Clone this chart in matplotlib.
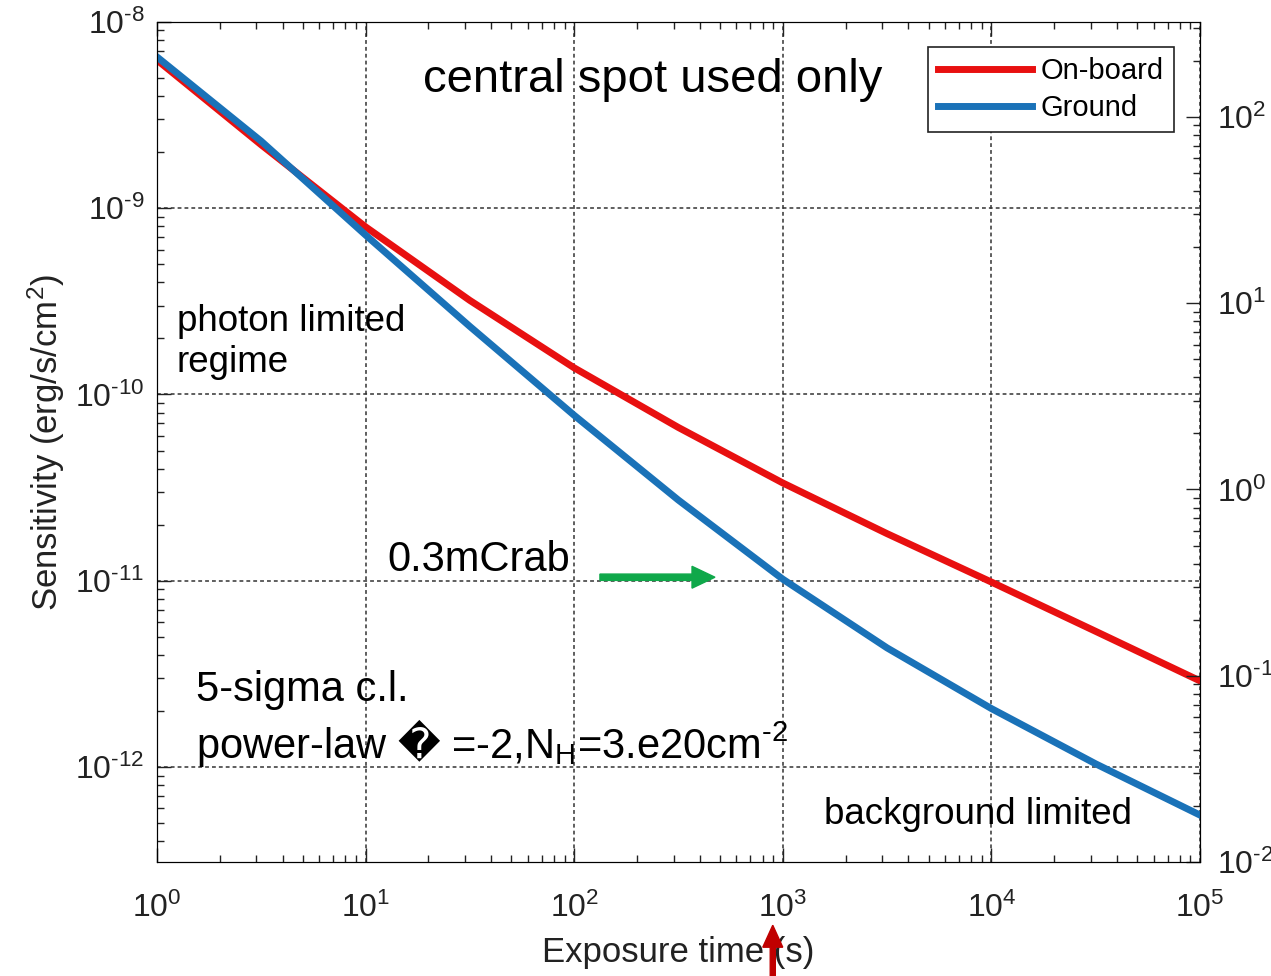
import numpy as np
import matplotlib
matplotlib.use("Agg")
from matplotlib import pyplot as plt
from matplotlib.patches import FancyArrow
from matplotlib.ticker import FuncFormatter

plt.rcParams['font.family'] = ['Liberation Sans', 'DejaVu Sans']
plt.rcParams['mathtext.fontset'] = 'custom'
plt.rcParams['mathtext.rm'] = 'Liberation Sans'
plt.rcParams['mathtext.it'] = 'Liberation Sans:italic'
plt.rcParams['mathtext.bf'] = 'DejaVu Sans'   # only used for the replacement glyph
plt.rcParams['axes.unicode_minus'] = False

# exposure time (s) and sensitivity (erg/s/cm^2)
exposure = [1, 3.16, 10, 31.6, 100, 316, 1000, 3162, 10000, 31623, 100000]
onboard = [6.25e-9, 2.19e-9, 7.94e-10, 3.20e-10, 1.39e-10, 6.65e-11,
           3.35e-11, 1.79e-11, 9.84e-12, 5.35e-12, 2.90e-12]
ground = [6.49e-9, 2.29e-9, 7.18e-10, 2.32e-10, 7.73e-11, 2.71e-11,
          1.02e-11, 4.36e-12, 2.06e-12, 1.04e-12, 5.52e-13]

mcrab = 3.09e-11  # erg/s/cm^2 per mCrab (right axis)
ylim = (3.09e-13, 1e-8)

HY = '\u2010'  # short hyphen, as in the original tick labels


def pow10(v, pos):
    e = int(round(np.log10(v)))
    s = str(e).replace('-', HY)
    return '$\\mathdefault{10^{%s}}$' % s


fig = plt.figure(figsize=(12.71, 9.76), dpi=100)
ax = fig.add_axes([0.1235, 0.1168, 0.8206, 0.8607])

ax.plot(exposure, onboard, color='#e81010', lw=5, label='On-board', zorder=3)
ax.plot(exposure, ground, color='#1a72b8', lw=5, label='Ground', zorder=4)
ax.set_xscale('log')
ax.set_yscale('log')
ax.set_xlim(1, 1e5)
ax.set_ylim(*ylim)
ax.xaxis.set_major_formatter(FuncFormatter(pow10))
ax.yaxis.set_major_formatter(FuncFormatter(pow10))
ax.grid(True, which='major', ls=(0, (2.5, 2)), color='#333333', lw=1.1)
ax.tick_params(which='both', direction='in', top=True, right=False,
               labelsize=23, colors='#222222')
ax.tick_params(which='major', length=10, width=1)
ax.tick_params(which='minor', length=5, width=1)
ax.tick_params(axis='x', pad=22)
ax.tick_params(axis='y', pad=9)
ax.set_xlabel('Exposure time (s)', fontsize=25, color='#222222', labelpad=9)
ax.set_ylabel('Sensitivity (erg/s/cm$^2$)', fontsize=25, color='#222222', labelpad=6)

ax2 = ax.twinx()
ax2.set_yscale('log')
ax2.set_ylim(ylim[0] / mcrab, ylim[1] / mcrab)
ax2.yaxis.set_major_formatter(FuncFormatter(pow10))
ax2.tick_params(which='both', direction='in', labelsize=23, colors='#222222', pad=12)
ax2.tick_params(which='major', length=10, width=1)
ax2.tick_params(which='minor', length=5, width=1)

leg = ax.legend(loc='upper right', bbox_to_anchor=(0.975, 0.97), borderaxespad=0,
                fontsize=21, fancybox=False, edgecolor='#222222', framealpha=1,
                handlelength=3.2, handletextpad=0.3, borderpad=0.35, labelspacing=0.3)
leg.get_frame().set_linewidth(1.2)

ax.text(0.255, 0.931, 'central spot used only', transform=ax.transAxes,
        fontsize=34, va='center', ha='left')
ax.text(0.019, 0.619, 'photon limited\nregime', transform=ax.transAxes,
        fontsize=26.5, va='center', ha='left', linespacing=1.2)
ax.text(0.2205, 0.3595, '0.3mCrab', transform=ax.transAxes,
        fontsize=30, va='center', ha='left')
ax.text(0.0374, 0.205, '5-sigma c.l.', transform=ax.transAxes,
        fontsize=30, va='center', ha='left')
ax.text(0.0374, 0.142,
        'power-law $\\mathbf{\ufffd}$ =-2,N$_\\mathrm{H}$=3.e20cm$^{\\mathrm{%s2}}$' % HY,
        transform=ax.transAxes, fontsize=30, va='center', ha='left')
ax.text(0.6395, 0.056, 'background limited', transform=ax.transAxes,
        fontsize=26.5, va='center', ha='left')

# green arrow pointing at the 0.3 mCrab line
ax.add_patch(FancyArrow(0.4247, 0.339, 0.1103, 0, width=0.0075, head_width=0.026,
                        head_length=0.022, length_includes_head=True,
                        color='#0fa84a', transform=ax.transAxes, zorder=5))
# red arrow below 10^3
fig.patches.append(FancyArrow(0.608, 0.0, 0, 0.052, width=0.004, head_width=0.0157,
                              head_length=0.0225, length_includes_head=True,
                              color='#c00000', transform=fig.transFigure, figure=fig))

fig.savefig('out.png', dpi=100)
